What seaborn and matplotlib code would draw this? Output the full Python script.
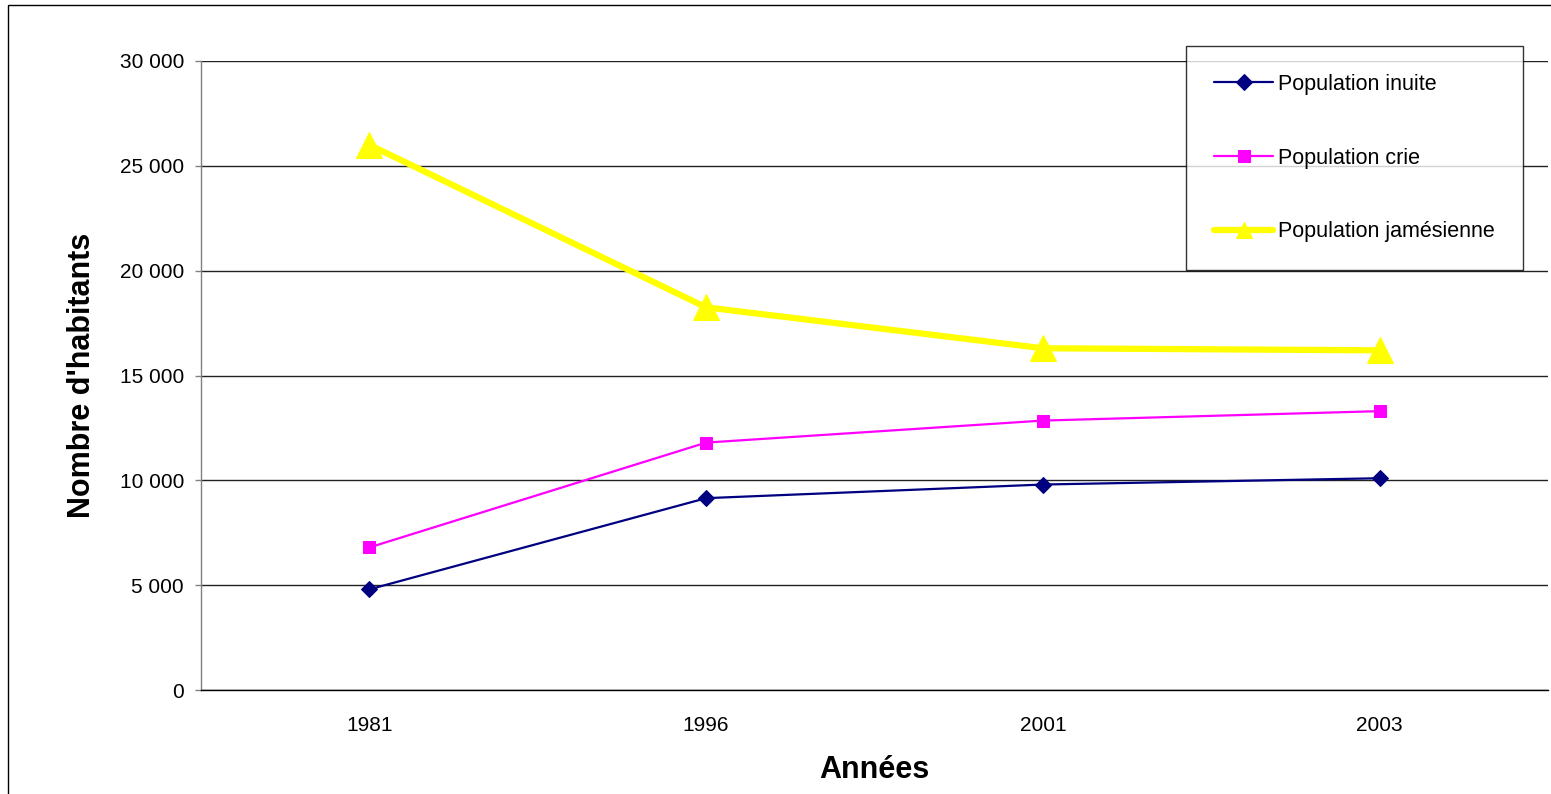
import numpy as np
import pandas as pd
import matplotlib
matplotlib.use("Agg")
import matplotlib.pyplot as plt
import seaborn as sns
from matplotlib.patches import Rectangle
from matplotlib.ticker import FuncFormatter, FixedLocator

# Data
years = ["1981", "1996", "2001", "2003"]
inuit = [4800, 9150, 9800, 10100]
crie = [6800, 11800, 12850, 13300]
jamesienne = [26000, 18250, 16300, 16200]

series_names = ["Population inuite", "Population crie", "Population jamésienne"]

df = pd.DataFrame({
    "pos": list(range(len(years))) * 3,
    "value": inuit + crie + jamesienne,
    "serie": [n for n in series_names for _ in years],
})

sns.set_style("white")
plt.rcParams["font.family"] = ["Liberation Sans", "DejaVu Sans"]
plt.rcParams["text.color"] = "black"
plt.rcParams["axes.labelcolor"] = "black"

fig = plt.figure(figsize=(15.51, 7.94), dpi=100)
ax = fig.add_axes([201 / 1551, 1 - 690 / 794, 1347 / 1551, 629 / 794])

styles = {
    "Population inuite": dict(color="#000080", marker="D", markersize=8.5, linewidth=1.6),
    "Population crie": dict(color="#FF00FF", marker="s", markersize=8, linewidth=1.6),
    "Population jamésienne": dict(color="#FFFF00", marker="^", markersize=19, linewidth=4.5),
}

for name in series_names:
    st = styles[name]
    sns.lineplot(
        data=df[df["serie"] == name],
        x="pos",
        y="value",
        ax=ax,
        label=name,
        color=st["color"],
        marker=st["marker"],
        markersize=st["markersize"],
        linewidth=st["linewidth"],
        markeredgecolor=st["color"],
        zorder=3,
    )

ax.set_xlim(-0.5, len(years) - 0.5)
ax.set_ylim(0, 30000)

ax.set_yticks(np.arange(0, 30001, 5000))
ax.yaxis.set_major_formatter(FuncFormatter(lambda v, p: f"{v:,.0f}".replace(",", " ")))
ax.set_xticks(range(len(years)))
ax.set_xticklabels(years)
ax.xaxis.set_minor_locator(FixedLocator(np.arange(-0.5, len(years), 1.0)))

ax.tick_params(axis="x", which="major", length=0, pad=19, labelsize=15, labelcolor="black")
ax.tick_params(axis="x", which="minor", length=4.5, width=1, color="#808080", direction="out")
ax.tick_params(axis="y", which="major", length=4.3, width=1, color="#808080",
               direction="out", pad=8, labelsize=15, labelcolor="black", left=True)

ax.grid(axis="y", color="#222222", linewidth=1)
ax.set_axisbelow(True)

for side in ["top", "right"]:
    ax.spines[side].set_visible(False)
ax.spines["left"].set_color("#808080")
ax.spines["left"].set_linewidth(1)
ax.spines["bottom"].set_color("black")
ax.spines["bottom"].set_linewidth(1)

ax.set_xlabel("Années", fontsize=22, fontweight="bold", labelpad=14)
ax.set_ylabel("Nombre d'habitants", fontsize=22, fontweight="bold", labelpad=16)

leg = ax.legend(
    loc="upper right",
    bbox_to_anchor=(0.9814, 1.0238),
    frameon=True,
    fancybox=False,
    edgecolor="black",
    fontsize=15.5,
    handlelength=2.75,
    handletextpad=0.22,
    labelspacing=2.44,
    borderpad=1.3,
    borderaxespad=0,
)
leg.get_frame().set_linewidth(1)
for h in leg.legend_handles:
    if h.get_marker() == "^":
        h.set_markersize(12)

# chart area border
fig.patches.append(Rectangle((8 / 1551, -0.01), 1.0, 1 - 5 / 794 + 0.01,
                             transform=fig.transFigure, fill=False,
                             edgecolor="black", linewidth=1))

fig.savefig("out.png", dpi=100)
